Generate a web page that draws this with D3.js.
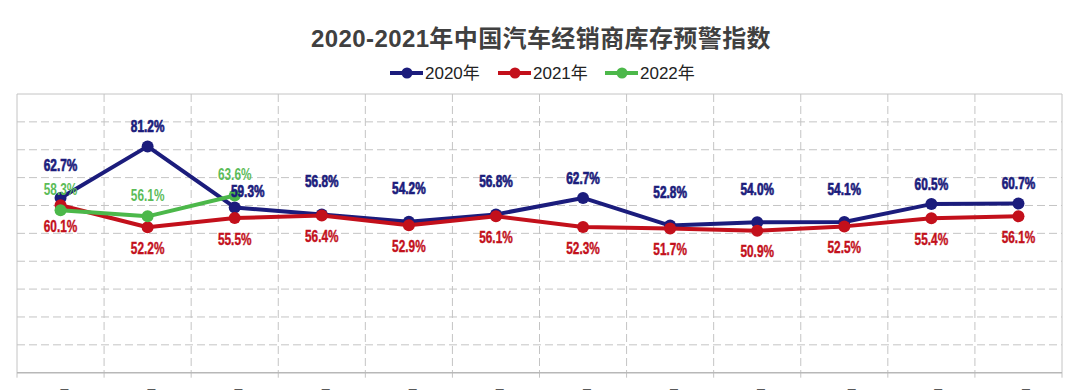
<!DOCTYPE html>
<html>
<head>
<meta charset="utf-8">
<script src="https://cdn.jsdelivr.net/npm/d3@7"></script>
<style>
  body { margin: 0; background: #fff; }
  svg { display: block; }
  .val { font-family: "Liberation Sans", Arial, sans-serif; font-weight: bold; font-size: 16px; }
</style>
</head>
<body>
<svg id="chart" width="1080" height="390"></svg>
<script>
// data
const months = ["1月", "2月", "3月", "4月", "5月", "6月", "7月", "8月", "9月", "10月", "11月", "12月"];
const idx2020 = [62.7, 81.2, 59.3, 56.8, 54.2, 56.8, 62.7, 52.8, 54.0, 54.1, 60.5, 60.7];
const idx2021 = [60.1, 52.2, 55.5, 56.4, 52.9, 56.1, 52.3, 51.7, 50.9, 52.5, 55.4, 56.1];
const idx2022 = [58.3, 56.1, 63.6];
const seriesNames = ["2020年", "2021年", "2022年"];
const yTicks = [10, 20, 30, 40, 50, 60, 70, 80, 90];

const colors = { "2020年": "#1b1c7c", "2021年": "#c3101b", "2022年": "#4cb84a" };
const labelColors = { "2020年": "#1b1c7c", "2021年": "#c3101b", "2022年": "#5cbc58" };
const labelStroke = { "2020年": 0.7, "2021年": 0.4, "2022年": 0 };

let svg = d3.select("#chart");
let plotLeft = 17, plotRight = 1062, plotTop = 94, plotBottom = 372.7;

let x = d3.scaleBand().domain(months).range([plotLeft, plotRight]).padding(0);
let y = d3.scaleLinear().domain([0, 100]).range([plotBottom, plotTop]);
let cx = m => x(m) + x.bandwidth() / 2;

// title
svg.append("text")
  .attr("x", 541).attr("y", 47)
  .attr("text-anchor", "middle")
  .attr("font-family", "'Liberation Sans', 'Noto Sans CJK SC', sans-serif")
  .attr("font-weight", "bold")
  .attr("font-size", 24)
  .attr("letter-spacing", 0.4)
  .attr("fill", "#404040")
  .text("2020-2021年中国汽车经销商库存预警指数");

// legend
let legendX = [390, 498, 605];
let legend = svg.append("g");
seriesNames.forEach((name, i) => {
  let g = legend.append("g").attr("transform", "translate(" + legendX[i] + ",73)");
  g.append("line").attr("x1", 0).attr("x2", 33).attr("y1", 0).attr("y2", 0)
    .attr("stroke", colors[name]).attr("stroke-width", 4);
  g.append("circle").attr("cx", 17).attr("cy", 0).attr("r", 5.5).attr("fill", colors[name]);
  g.append("text").attr("x", 35).attr("y", 6)
    .attr("font-family", "'Liberation Sans', 'Noto Sans CJK SC', sans-serif")
    .attr("font-size", 17).attr("fill", "#222")
    .text(name);
});

// grid
let grid = svg.append("g").attr("stroke", "#c4c4c4").attr("stroke-width", 1);
grid.selectAll(".hg").data(yTicks).enter().append("line")
  .attr("x1", plotLeft).attr("x2", plotRight)
  .attr("y1", d => y(d)).attr("y2", d => y(d))
  .attr("stroke-dasharray", "8,4");
grid.selectAll(".vg").data(months.slice(1)).enter().append("line")
  .attr("x1", d => x(d)).attr("x2", d => x(d))
  .attr("y1", plotTop).attr("y2", plotBottom + 5)
  .attr("stroke-dasharray", "8,4");
// frame
grid.append("line").attr("x1", plotLeft).attr("x2", plotRight).attr("y1", plotTop).attr("y2", plotTop);
grid.append("line").attr("x1", plotLeft).attr("x2", plotLeft).attr("y1", plotTop).attr("y2", plotBottom + 5);
grid.append("line").attr("x1", plotRight).attr("x2", plotRight).attr("y1", plotTop).attr("y2", plotBottom + 5);
grid.append("line").attr("x1", plotLeft).attr("x2", plotRight).attr("y1", plotBottom).attr("y2", plotBottom)
  .attr("stroke", "#b8b8b8").attr("stroke-width", 1.5);

// x axis labels (partly cut off at the bottom edge)
svg.append("g").selectAll("text").data(months).enter().append("text")
  .attr("x", d => cx(d)).attr("y", 399)
  .attr("text-anchor", "middle")
  .attr("font-family", "'Liberation Sans', 'Noto Sans CJK SC', sans-serif")
  .attr("font-size", 13).attr("fill", "#595959")
  .text(d => d);

// series
let series = [
  { name: "2020年", values: idx2020 },
  { name: "2021年", values: idx2021 },
  { name: "2022年", values: idx2022 }
];

let line = d3.line()
  .x((d, i) => cx(months[i]))
  .y(d => y(d));

let plot = svg.append("g");
series.forEach(s => {
  plot.append("path")
    .datum(s.values)
    .attr("d", line)
    .attr("fill", "none")
    .attr("stroke", colors[s.name])
    .attr("stroke-width", 4)
    .attr("stroke-linejoin", "round");
  plot.selectAll(null).data(s.values).enter().append("circle")
    .attr("cx", (d, i) => cx(months[i]))
    .attr("cy", d => y(d))
    .attr("r", 6)
    .attr("fill", colors[s.name]);
});

// value label placement
function labelPos(name, i) {
  let lx = cx(months[i]);
  if (name === "2021年") return [lx, y(idx2021[i]) + 21];
  if (name === "2022年") return [lx, y(idx2022[i]) - 21];
  // 2020: push higher when the 2021 point sits close by
  let py = y(idx2020[i]);
  let ly = Math.abs(py - y(idx2021[i])) < 10 ? py - 33 : py - 20;
  // nudge aside if it runs into a 2022 label
  if (i < idx2022.length && Math.abs(ly - (y(idx2022[i]) - 21)) < 16) {
    lx += 13;
    ly += 4;
  }
  return [lx, ly];
}

let fmt = v => d3.format(".1f")(v) + "%";
let labels = svg.append("g");
series.forEach(s => {
  labels.selectAll(null).data(s.values).enter().append("g")
    .attr("transform", (d, i) => {
      let p = labelPos(s.name, i);
      return "translate(" + p[0] + "," + p[1] + ") scale(0.74,1)";
    })
    .append("text")
    .attr("class", "val")
    .attr("dy", "0.35em")
    .attr("text-anchor", "middle")
    .attr("fill", labelColors[s.name])
    .attr("stroke", labelColors[s.name])
    .attr("stroke-width", labelStroke[s.name])
    .text(fmt);
});
</script>
</body>
</html>
